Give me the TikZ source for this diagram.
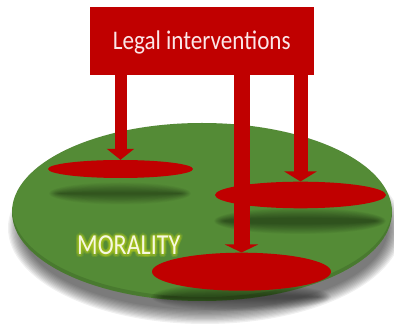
\documentclass[tikz,border=0pt]{standalone}
\usepackage{fontspec}
\setmainfont{Carlito}
\usetikzlibrary{shapes.geometric,arrows.meta}

\definecolor{legalred}{HTML}{C00000}
\definecolor{moralgreen}{HTML}{548B36}
\definecolor{glowyellow}{HTML}{B2CC1E}
\definecolor{moraltext}{HTML}{F6F8E0}
\definecolor{labelpink}{HTML}{FBE6E8}

% soft (blurred) shadow ellipse built from stacked translucent layers:
% #1,#2 centre, #3,#4 radii, #5 blur width, #6 opacity of each layer
\newcommand{\softellipse}[6]{%
  \foreach \k in {0,...,11}{%
    \fill[black, opacity=#6] (#1,#2) ellipse
      [x radius={#3pt+#5pt-2*#5pt*\k/11}, y radius={#4pt+#5pt-2*#5pt*\k/11}];
  }}

\begin{document}
\begin{tikzpicture}[x=1pt,y=-1pt,
  disc/.style={ellipse, fill=legalred, inner sep=0pt},
  bigarrow/.style={draw=legalred, line width=#1},
  moralfont/.style={font=\fontsize{29}{32}\selectfont, inner sep=0pt, anchor=base west},
]
\useasboundingbox (0,0) rectangle (394,328);

% ground shadow under the green disc
\softellipse{205}{228}{190}{89}{7}{0.06}

% the green disc of morality
\node[ellipse, fill=moralgreen, minimum width=380pt, minimum height=178pt, inner sep=0pt] (moral) at (202,212) {};

% darker rim along the lower edge of the disc
\begin{scope}
  \clip (202,212) ellipse [x radius=190pt, y radius=89pt];
  \fill[black, opacity=0.12, even odd rule]
    (202,212) ellipse [x radius=190pt, y radius=89pt]
    (202,208) ellipse [x radius=190pt, y radius=89pt];
\end{scope}

% shadows cast by the red discs
\softellipse{120}{193.5}{66}{6}{5}{0.035}
\softellipse{300}{221}{81}{8}{5}{0.04}
\softellipse{241}{297}{84}{8}{6}{0.045}

% MORALITY label with its yellow glow
\coordinate (morbase) at (77,255);
\foreach \r in {1.5,3}{
  \foreach \a in {0,30,...,330}{
    \path (morbase) ++(\a:\r) node[moralfont, text=glowyellow, opacity=0.16] (glow-\r-\a) {\scalebox{0.83}[1]{MORALITY}};
  }}
\node[moralfont, text=moraltext] (morality) at (morbase) {\scalebox{0.83}[1]{MORALITY}};

% red discs
\node[disc, minimum width=145pt, minimum height=18pt] (d1) at (120.5,169) {};
\node[disc, minimum width=171pt, minimum height=26.6pt] (d2) at (300.5,195) {};
\node[disc, minimum width=179pt, minimum height=38pt] (d3) at (241.5,271.7) {};

% the box of legal interventions
\node[fill=legalred, minimum width=223.5pt, minimum height=68pt, inner sep=0pt,
      text=labelpink, font=\fontsize{26.9}{30}\selectfont,
      text height=17pt, text depth=0pt] (box) at (201.75,41)
      {\scalebox{0.86}[1]{Legal interventions}};

% arrows from the box down to the discs
\draw[bigarrow=12pt, -{Triangle[width=27pt,length=11pt]}] (box.south -| d1.north) ++(0,-4) -- (d1.north);
\draw[bigarrow=14pt, -{Triangle[width=32pt,length=10pt]}] (box.south -| d2.north) ++(0,-4) -- (d2.north);
\draw[bigarrow=16pt, -{Triangle[width=33pt,length=8pt]}] (box.south -| d3.north) ++(0,-4) -- (d3.north);
\end{tikzpicture}
\end{document}
